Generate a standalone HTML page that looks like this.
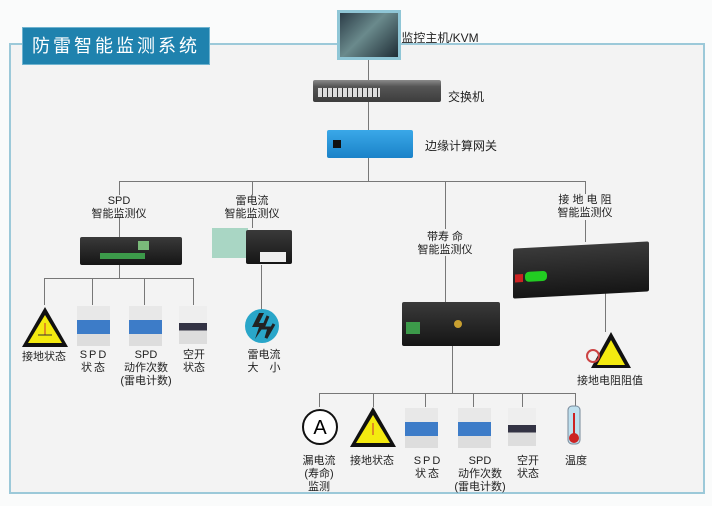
<!DOCTYPE html>
<html><head><meta charset="utf-8"><style>
body{margin:0;width:712px;height:506px;background:#fafbfb;position:relative;overflow:hidden;font-family:"Liberation Sans","Noto Sans CJK SC",sans-serif;color:#222}
.a{position:absolute}
.t{position:absolute;font-size:11px;line-height:13px;text-align:center;white-space:nowrap;transform:translateX(-50%)}
.l{position:absolute;background:#777}
.dev{position:absolute;background:linear-gradient(#3a3a3a,#151515);border-radius:2px}
</style></head><body>
<div class="a" style="left:9px;top:43px;width:692px;height:447px;border:2px solid #9cc9d9;background:#f3f3f3"></div>
<div class="a" style="left:22px;top:27px;width:186px;height:36px;background:#1f82ae;color:#fff;font-size:18px;line-height:36px;text-align:center;letter-spacing:3px;border:1px solid #6fb3cf">防雷智能监测系统</div>
<div class="l" style="left:368px;top:60px;width:1px;height:121px"></div>
<div class="l" style="left:119px;top:181px;width:467px;height:1px"></div>
<div class="l" style="left:119px;top:181px;width:1px;height:14px"></div>
<div class="l" style="left:119px;top:217px;width:1px;height:20px"></div>
<div class="l" style="left:252px;top:181px;width:1px;height:14px"></div>
<div class="l" style="left:252px;top:218px;width:1px;height:10px"></div>
<div class="l" style="left:445px;top:181px;width:1px;height:48px"></div>
<div class="l" style="left:445px;top:256px;width:1px;height:46px"></div>
<div class="l" style="left:585px;top:181px;width:1px;height:13px"></div>
<div class="l" style="left:585px;top:220px;width:1px;height:22px"></div>
<div class="l" style="left:119px;top:265px;width:1px;height:13px"></div>
<div class="l" style="left:44px;top:278px;width:150px;height:1px"></div>
<div class="l" style="left:44px;top:278px;width:1px;height:27px"></div>
<div class="l" style="left:92px;top:278px;width:1px;height:27px"></div>
<div class="l" style="left:144px;top:278px;width:1px;height:27px"></div>
<div class="l" style="left:193px;top:278px;width:1px;height:27px"></div>
<div class="l" style="left:261px;top:265px;width:1px;height:45px"></div>
<div class="l" style="left:605px;top:292px;width:1px;height:40px"></div>
<div class="l" style="left:452px;top:345px;width:1px;height:48px"></div>
<div class="l" style="left:319px;top:393px;width:256px;height:1px"></div>
<div class="l" style="left:319px;top:393px;width:1px;height:14px"></div>
<div class="l" style="left:373px;top:393px;width:1px;height:14px"></div>
<div class="l" style="left:425px;top:393px;width:1px;height:14px"></div>
<div class="l" style="left:473px;top:393px;width:1px;height:14px"></div>
<div class="l" style="left:522px;top:393px;width:1px;height:14px"></div>
<div class="l" style="left:575px;top:393px;width:1px;height:14px"></div>
<div class="a" style="left:337px;top:10px;width:64px;height:50px;background:#8fc6d6;padding:3px;box-sizing:border-box"><div style="width:100%;height:100%;background:linear-gradient(135deg,#2c3d48,#6a8a8c 45%,#1f2d36)"></div></div>
<div class="t" style="left:440px;top:32px;font-size:12px">监控主机/KVM</div>
<div class="a" style="left:313px;top:80px;width:128px;height:22px;background:linear-gradient(#8a8a8a,#555 30%,#3d3d3d);border-radius:2px"></div>
<div class="a" style="left:318px;top:88px;width:62px;height:9px;background:repeating-linear-gradient(90deg,#ddd 0 4px,#333 4px 5px)"></div>
<div class="t" style="left:466px;top:91px;font-size:12px">交换机</div>
<div class="a" style="left:327px;top:130px;width:86px;height:28px;background:linear-gradient(#3aa8e8,#1a82c8);border-radius:2px"><div class="a" style="left:6px;top:10px;width:8px;height:8px;background:#111"></div></div>
<div class="t" style="left:461px;top:140px;font-size:12px">边缘计算网关</div>
<div class="t" style="left:119px;top:195px">SPD<br>智能监测仪</div>
<div class="t" style="left:252px;top:195px">雷电流<br>智能监测仪</div>
<div class="t" style="left:445px;top:231px">带寿 命<br>智能监测仪</div>
<div class="t" style="left:585px;top:194px">接 地 电 阻<br>智能监测仪</div>
<div class="dev" style="left:80px;top:237px;width:102px;height:28px"><div class="a" style="left:20px;top:16px;width:45px;height:6px;background:#3c9a4a"></div><div class="a" style="left:58px;top:4px;width:11px;height:9px;background:#7aba7a"></div></div>
<div class="a" style="left:212px;top:228px;width:36px;height:30px;background:#a9d6c4"></div>
<div class="dev" style="left:246px;top:230px;width:46px;height:34px"><div class="a" style="left:14px;top:22px;width:26px;height:10px;background:#eee"></div></div>
<div class="dev" style="left:402px;top:302px;width:98px;height:44px"><div class="a" style="left:4px;top:20px;width:14px;height:12px;background:#3c9a4a"></div><div class="a" style="left:52px;top:18px;width:8px;height:8px;border-radius:50%;background:#c9a030"></div></div>
<div class="dev" style="left:513px;top:245px;width:136px;height:50px;transform:skewY(-3deg)"><div class="a" style="left:2px;top:26px;width:8px;height:8px;background:#c22"></div><div class="a" style="left:12px;top:24px;width:22px;height:10px;background:#2c2;border-radius:4px"></div></div>
<svg class="a" style="left:20px;top:305px" width="50" height="44"><polygon points="25,2 48,42 2,42" fill="#111"/><polygon points="25,10 42,38 8,38" fill="#f4ea10"/><line x1="25" y1="18" x2="25" y2="30" stroke="#c33"/><line x1="18" y1="30" x2="32" y2="30" stroke="#333"/></svg>
<div class="a" style="left:77px;top:306px;width:33px;height:40px;background:linear-gradient(#e8e8e8 35%,#3d7cc8 35%,#3d7cc8 70%,#ddd 70%)"></div>
<div class="a" style="left:129px;top:306px;width:33px;height:40px;background:linear-gradient(#e8e8e8 35%,#3d7cc8 35%,#3d7cc8 70%,#ddd 70%)"></div>
<div class="a" style="left:179px;top:306px;width:28px;height:38px;background:linear-gradient(#eee 45%,#334 45%,#334 65%,#ddd 65%)"></div>
<svg class="a" style="left:244px;top:308px" width="36" height="36"><circle cx="18" cy="18" r="17" fill="#29a6c9"/><path d="M15 5 L8 19 L15 19 L11 31 L22 15 L15 15 L20 5Z" fill="#222"/><path d="M24 8 L19 20 L25 20 L22 30 L30 16" fill="none" stroke="#222" stroke-width="3"/></svg>
<div class="t" style="left:44px;top:351px">接地状态</div>
<div class="t" style="left:94px;top:349px;letter-spacing:2px">SPD<br>状态</div>
<div class="t" style="left:146px;top:349px">SPD<br>动作次数<br>(雷电计数)</div>
<div class="t" style="left:194px;top:349px">空开<br>状态</div>
<div class="t" style="left:264px;top:349px">雷电流<br>大　小</div>
<svg class="a" style="left:585px;top:330px" width="48" height="40"><polygon points="26,2 46,38 6,38" fill="#111"/><polygon points="26,10 40,35 12,35" fill="#f4ea10"/><circle cx="8" cy="26" r="6" fill="none" stroke="#c44" stroke-width="2"/></svg>
<div class="t" style="left:610px;top:375px">接地电阻阻值</div>
<svg class="a" style="left:301px;top:408px" width="38" height="40"><circle cx="19" cy="19" r="17" fill="#fff" stroke="#111" stroke-width="2"/><text x="19" y="26" font-size="20" text-anchor="middle" font-family="Liberation Sans">A</text></svg>
<svg class="a" style="left:348px;top:405px" width="50" height="44"><polygon points="25,2 48,42 2,42" fill="#111"/><polygon points="25,10 42,38 8,38" fill="#f4ea10"/><line x1="25" y1="18" x2="25" y2="30" stroke="#c33"/></svg>
<div class="a" style="left:405px;top:408px;width:33px;height:40px;background:linear-gradient(#e8e8e8 35%,#3d7cc8 35%,#3d7cc8 70%,#ddd 70%)"></div>
<div class="a" style="left:458px;top:408px;width:33px;height:40px;background:linear-gradient(#e8e8e8 35%,#3d7cc8 35%,#3d7cc8 70%,#ddd 70%)"></div>
<div class="a" style="left:508px;top:408px;width:28px;height:38px;background:linear-gradient(#eee 45%,#334 45%,#334 65%,#ddd 65%)"></div>
<svg class="a" style="left:564px;top:405px" width="20" height="42"><rect x="4" y="1" width="12" height="38" rx="4" fill="#bfe0ee" stroke="#789"/><line x1="10" y1="8" x2="10" y2="32" stroke="#c22" stroke-width="2"/><circle cx="10" cy="33" r="5" fill="#c22"/></svg>
<div class="t" style="left:319px;top:455px">漏电流<br>(寿命)<br>监测</div>
<div class="t" style="left:372px;top:455px">接地状态</div>
<div class="t" style="left:428px;top:455px;letter-spacing:2px">SPD<br>状态</div>
<div class="t" style="left:480px;top:455px">SPD<br>动作次数<br>(雷电计数)</div>
<div class="t" style="left:528px;top:455px">空开<br>状态</div>
<div class="t" style="left:576px;top:455px">温度</div>
</body></html>
